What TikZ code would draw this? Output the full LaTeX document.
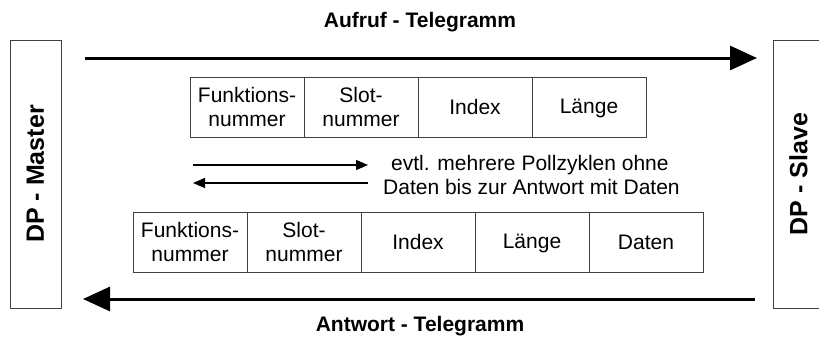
\documentclass[tikz,border=0pt]{standalone}
\usepackage{fontspec}
\setmainfont{Liberation Sans}
\usepackage{tikz}
\usetikzlibrary{arrows.meta, positioning}
\newcommand{\zeile}{\rule[-3pt]{0pt}{20pt}}

\begin{document}
\begin{tikzpicture}[x=1pt, y=-1pt,
  feld/.style={draw=black!75, line width=0.8pt, minimum width=114pt, minimum height=60pt,
    inner sep=0pt, outer sep=0pt, align=center, font=\fontsize{21}{24}\selectfont},
  station/.style={draw=black!75, line width=0.8pt, rotate=90, minimum width=268pt,
    minimum height=51pt, inner sep=0pt, font=\fontsize{25}{28}\selectfont\bfseries},
  dick/.style={line width=3pt, -{Triangle[length=27pt,width=24pt]}},
  duenn/.style={line width=1.3pt, -{Triangle[length=12pt,width=10pt]}},
  titel/.style={font=\fontsize{21}{24}\selectfont\bfseries},
  hinweis/.style={anchor=west, inner sep=0pt, font=\fontsize{21}{24}\selectfont}]
\useasboundingbox (0,0) rectangle (819,340);
\clip (0,0) rectangle (819,340);
% --- Master / Slave ---
\node[station] (master) at (35.5,174) {DP - Master};
\node[station] (slave) at (798.5,174) {DP - Slave};
% --- Aufruf ---
\node[titel] (auftitel) at (420,22) {Aufruf - Telegramm};
\coordinate (auf0) at (85,58);
\coordinate (auf1) at (757,58);
\draw[dick] (auf0) -- (auf1);
\node[feld] (a1) at (247,107) {\zeile Funktions-\\\zeile nummer};
\node[feld, right=0pt of a1] (a2) {\zeile Slot-\\\zeile nummer};
\node[feld, right=0pt of a2] (a3) {\zeile Index};
\node[feld, right=0pt of a3] (a4) {\zeile Länge};
% --- Pollzyklen ---
\coordinate (p0) at (193,165);
\coordinate (p1) at (368,165);
\coordinate (q0) at (368,183);
\coordinate (q1) at (193,183);
\draw[duenn] (p0) -- (p1);
\draw[duenn] (q0) -- (q1);
\node[hinweis] (h1) at (391,165) {evtl. mehrere Pollzyklen ohne};
\node[hinweis] (h2) at (383,187) {Daten bis zur Antwort mit Daten};
% --- Antwort ---
\node[feld] (b1) at (190,242.5) {\zeile Funktions-\\\zeile nummer};
\node[feld, right=0pt of b1] (b2) {\zeile Slot-\\\zeile nummer};
\node[feld, right=0pt of b2] (b3) {\zeile Index};
\node[feld, right=0pt of b3] (b4) {\zeile Länge};
\node[feld, right=0pt of b4] (b5) {\zeile Daten};
\coordinate (ant0) at (755,299);
\coordinate (ant1) at (83,299);
\draw[dick] (ant0) -- (ant1);
\node[titel] (anttitel) at (420,326) {Antwort - Telegramm};
\end{tikzpicture}
\end{document}
